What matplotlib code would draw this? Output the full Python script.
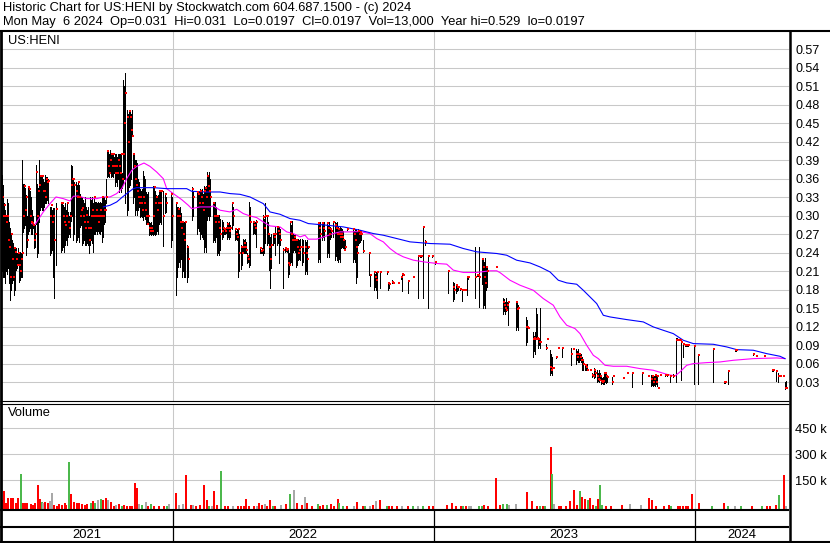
import matplotlib
matplotlib.use('Agg')
import matplotlib.pyplot as plt
from matplotlib.lines import Line2D
import numpy as np

plt.rcParams['font.family'] = ['Liberation Sans', 'DejaVu Sans']

# ---------------- data (x = weekday index along the chart) ----------------
header_line1 = "Historic Chart for US:HENI by Stockwatch.com 604.687.1500 - (c) 2024"
header_line2 = ("Mon May  6 2024  Op=0.031  Hi=0.031  Lo=0.0197  Cl=0.0197  "
                "Vol=13,000  Year hi=0.529  lo=0.0197")
symbol = "US:HENI"

year_labels = ["2021", "2022", "2023", "2024"]
year_starts = [172.6, 433.6, 695.0]          # first weekday of 2022, 2023, 2024
price_ticks = [0.03, 0.06, 0.09, 0.12, 0.15, 0.18, 0.21, 0.24, 0.27, 0.30,
               0.33, 0.36, 0.39, 0.42, 0.45, 0.48, 0.51, 0.54, 0.57]
volume_ticks = [150000, 300000, 450000]
volume_tick_labels = ["150 k", "300 k", "450 k"]

bar_day = [
    2, 3, 4, 5, 6, 7, 8, 9, 10, 11,
    12, 13, 14, 15, 16, 17, 18, 19, 20, 21,
    22, 23, 24, 25, 26, 27, 28, 29, 30, 31,
    32, 33, 34, 35, 36, 37, 38, 39, 40, 41,
    42, 43, 44, 45, 46, 47, 48, 50, 51, 52,
    53, 54, 56, 61, 62, 63, 64, 65, 66, 67,
    68, 69, 70, 71, 72, 73, 74, 76, 77, 78,
    79, 80, 81, 82, 83, 84, 85, 86, 87, 88,
    89, 90, 91, 92, 93, 94, 95, 96, 97, 98,
    99, 100, 101, 102, 103, 104, 105, 106, 107, 108,
    109, 110, 111, 112, 113, 114, 115, 116, 117, 118,
    119, 120, 121, 122, 123, 124, 125, 127, 128, 129,
    130, 131, 132, 133, 134, 135,
    136, 137, 138, 139, 140, 141, 142, 143, 144, 145,
    146, 147, 148, 149, 150, 151, 152, 153, 154, 155,
    156, 157, 158, 159, 160, 161, 163, 165, 166, 171,
    172, 176, 177, 178, 179, 180, 181, 182, 183, 184,
    185, 187, 188, 192, 193, 197, 198, 199, 200, 201,
    202, 203, 204, 205, 206, 207, 208, 209, 210, 213,
    214, 215, 216, 217, 218, 219, 220, 222, 223, 224,
    225, 226, 227, 228, 229, 230, 232, 233, 235, 236,
    237, 238, 239, 241, 242, 243, 244, 245, 246, 247,
    248, 249, 250,
    253, 254, 255, 256, 260, 261, 262, 263, 264, 265,
    267, 268, 269, 270, 271, 273, 274, 275, 277, 278,
    279, 280, 283, 285, 286, 287, 288, 289, 290, 291,
    292, 293, 294, 295, 296, 297, 298, 299, 300, 302,
    303, 305, 306, 307, 308, 318, 319, 320, 322, 323,
    324, 327, 328, 329, 330, 331, 333, 335, 336, 337,
    338, 339, 340, 341, 342, 343, 344, 345, 347, 353,
    354, 355, 356, 357, 358, 359, 360, 361, 363, 369,
    370, 374, 375, 376, 377, 380, 387, 388, 389, 392,
    393, 398, 401, 402, 403, 408, 413, 418, 420, 421,
    423, 425, 428, 432, 435, 448, 453, 454, 456, 457,
    458, 460, 462, 463, 465, 467, 468, 475, 477, 478,
    479, 482, 483, 484, 485, 486, 487, 496,
    503, 504, 505, 506, 507, 508, 516, 517, 518, 526,
    527, 528, 533, 534, 535, 536, 537, 538, 539, 540,
    546, 547, 550, 551, 552, 553, 556, 558, 562, 571,
    573, 576, 577, 578, 579, 580, 581, 582, 583, 585,
    586, 587, 590, 592, 593, 594, 595, 597, 598, 599,
    600, 601, 602, 603, 604, 605, 606, 607, 612, 613,
    623, 627, 632, 642, 648, 651, 652, 653, 654, 655,
    656, 657, 658, 660, 665, 667, 670, 673, 676, 677,
    678, 679, 680, 681, 683, 685, 686, 687, 688, 694,
    698, 713, 724, 725, 728, 735, 736, 753, 756, 764,
    772, 773, 776, 778, 780, 783, 785, 786,
]

bar_high = [
    .366, .350, .321, .310, .300, .328, .320, .290, .280, .271,
    .260, .255, .247, .247, .247, .240, .247, .241, .241, .240,
    .391, .352, .352, .345, .333, .300, .349, .349, .340, .330,
    .309, .300, .287, .285, .382, .352, .345, .391, .366, .366,
    .366, .360, .355, .366, .363, .363, .360, .314, .314, .310,
    .312, .312, .320, .322, .322, .318, .315, .320, .310, .320,
    .306, .300, .306, .382, .380, .360, .355, .355, .350, .355,
    .350, .336, .330, .330, .325, .320, .330, .314, .310, .314,
    .300, .330, .325, .330, .320, .330, .322, .322, .320, .322,
    .320, .322, .320, .330, .330, .330, .325, .360, .406, .406,
    .400, .406, .401, .401, .401, .395, .401, .401, .395, .401,
    .401, .400, .401, .370, .521, .510, .531, .471, .465, .471,
    .471, .465, .471, .401, .400, .391,
    .391, .385, .360, .355, .344, .340, .344, .372, .365, .360,
    .339, .335, .339, .290, .288, .290, .285, .349, .349, .340,
    .333, .330, .333, .341, .338, .341, .341, .336, .330, .339,
    .330, .322, .315, .314, .310, .314, .305, .290, .288, .290,
    .290, .252, .250, .346, .340, .341, .335, .341, .344, .340,
    .344, .335, .349, .345, .349, .371, .365, .371, .360, .322,
    .320, .322, .315, .301, .300, .301, .295, .293, .290, .282,
    .280, .282, .290, .288, .290, .285, .321, .315, .279, .275,
    .279, .279, .270, .252, .250, .263, .260, .263, .258, .239,
    .235, .322, .315,
    .290, .288, .290, .293, .247, .245, .247, .301, .295, .321,
    .301, .290, .271, .265, .271, .271, .268, .282, .282, .280,
    .282, .278, .247, .247, .245, .247, .247, .240, .291, .285,
    .291, .271, .268, .271, .263, .260, .263, .260, .263, .263,
    .260, .261, .258, .261, .250, .290, .288, .290, .290, .288,
    .290, .290, .285, .290, .282, .280, .291, .290, .288, .290,
    .282, .280, .282, .280, .279, .275, .263, .260, .279, .279,
    .275, .279, .279, .275, .279, .275, .277, .275, .260, .240,
    .206, .209, .205, .209, .210, .210, .209, .191, .190, .196,
    .191, .193, .201, .206, .204, .196, .201, .235, .235, .235,
    .283, .260, .235, .235, .226, .211, .193, .190, .189, .187,
    .185, .182, .180, .180, .180, .201, .201, .250, .204, .204,
    .250, .231, .231, .225, .231, .217, .215, .217,
    .166, .165, .160, .166, .160, .160, .161, .161, .155, .135,
    .130, .119, .111, .105, .111, .151, .140, .100, .098, .151,
    .092, .101, .082, .075, .070, .054, .070, .086, .086, .086,
    .085, .084, .080, .084, .076, .075, .076, .071, .068, .060,
    .058, .060, .050, .044, .042, .052, .050, .049, .045, .049,
    .045, .038, .036, .038, .045, .044, .045, .040, .038, .040,
    .037, .045, .045, .045, .040, .041, .040, .041, .040, .041,
    .040, .041, .022, .043, .041, .041, .040, .043, .101, .101,
    .100, .100, .099, .098, .092, .090, .090, .090, .090, .088,
    .075, .084, .032, .031, .048, .082, .082, .075, .073, .073,
    .049, .049, .048, .044, .040, .040, .030, .031,
]

bar_low = [
    .210, .200, .200, .190, .210, .206, .215, .190, .163, .180,
    .190, .195, .171, .180, .212, .215, .220, .193, .195, .200,
    .200, .274, .280, .285, .236, .250, .271, .275, .280, .271,
    .271, .280, .247, .250, .287, .233, .240, .290, .309, .315,
    .310, .309, .315, .320, .320, .325, .320, .236, .240, .245,
    .200, .166, .220, .241, .245, .250, .241, .252, .260, .252,
    .266, .270, .266, .292, .300, .260, .270, .258, .260, .265,
    .258, .282, .285, .252, .255, .260, .252, .252, .255, .252,
    .240, .252, .260, .255, .241, .270, .271, .275, .271, .275,
    .272, .271, .275, .258, .265, .287, .290, .320, .363, .365,
    .363, .370, .363, .365, .363, .370, .349, .355, .349, .360,
    .339, .345, .339, .345, .352, .360, .320, .301, .310, .347,
    .350, .360, .430, .320, .330, .301,
    .310, .301, .309, .315, .298, .300, .298, .293, .300, .295,
    .287, .290, .290, .268, .270, .268, .270, .268, .270, .268,
    .271, .275, .271, .287, .290, .287, .251, .304, .306, .249,
    .260, .171, .200, .217, .225, .217, .230, .201, .210, .201,
    .201, .193, .200, .293, .300, .271, .280, .275, .263, .270,
    .265, .263, .241, .250, .241, .293, .300, .293, .300, .258,
    .260, .258, .265, .236, .240, .236, .245, .263, .265, .271,
    .271, .272, .263, .265, .263, .266, .279, .285, .260, .262,
    .260, .201, .210, .214, .220, .239, .240, .239, .240, .223,
    .225, .217, .220,
    .271, .272, .271, .250, .239, .240, .239, .236, .240, .255,
    .252, .255, .212, .182, .215, .252, .255, .236, .252, .255,
    .223, .252, .182, .241, .242, .241, .201, .205, .220, .225,
    .220, .241, .245, .241, .217, .220, .228, .230, .228, .220,
    .225, .206, .210, .206, .247, .225, .230, .225, .260, .265,
    .260, .233, .240, .233, .263, .265, .266, .228, .235, .228,
    .225, .230, .225, .247, .250, .247, .244, .245, .277, .225,
    .230, .225, .191, .200, .252, .255, .258, .260, .241, .204,
    .186, .179, .185, .180, .166, .182, .206, .180, .182, .190,
    .190, .190, .198, .177, .203, .175, .200, .167, .233, .233,
    .167, .252, .150, .233, .222, .175, .162, .165, .175, .178,
    .180, .179, .162, .179, .179, .171, .198, .166, .202, .202,
    .152, .189, .150, .155, .150, .179, .185, .216,
    .141, .145, .141, .145, .150, .122, .114, .120, .114, .090,
    .095, .117, .071, .080, .075, .100, .101, .086, .090, .086,
    .083, .100, .041, .045, .041, .052, .069, .085, .071, .057,
    .084, .060, .065, .063, .063, .065, .063, .049, .050, .049,
    .050, .049, .049, .038, .039, .036, .038, .030, .032, .030,
    .033, .026, .028, .026, .026, .030, .028, .030, .026, .039,
    .036, .044, .022, .027, .039, .023, .025, .023, .025, .023,
    .026, .023, .021, .042, .040, .040, .030, .038, .030, .098,
    .098, .098, .098, .033, .071, .089, .089, .089, .089, .026,
    .026, .030, .029, .029, .026, .081, .081, .074, .072, .072,
    .048, .048, .032, .030, .039, .039, .019, .020,
]

bar_close = [
    .330, .300, .318, .300, .290, .300, .260, .250, .200, .271,
    .230, .200, .247, .241, .230, .220, .240, .220, .210, .230,
    .240, .300, .349, .310, .330, .260, .347, .344, .300, .290,
    .288, .285, .260, .270, .371, .300, .340, .350, .364, .364,
    .364, .340, .340, .330, .360, .355, .357, .300, .317, .290,
    .299, .260, .311, .320, .320, .300, .290, .285, .300, .320,
    .290, .280, .300, .350, .360, .360, .350, .340, .330, .355,
    .330, .300, .310, .312, .300, .290, .280, .301, .290, .280,
    .260, .280, .300, .310, .300, .330, .300, .310, .300, .290,
    .300, .310, .300, .330, .300, .309, .310, .330, .405, .380,
    .370, .390, .400, .380, .400, .380, .370, .380, .370, .390,
    .380, .370, .400, .360, .400, .450, .500, .460, .420, .470,
    .460, .440, .430, .400, .380, .360,
    .350, .340, .330, .320, .331, .320, .310, .331, .320, .310,
    .300, .287, .300, .280, .275, .280, .275, .300, .347, .320,
    .330, .310, .320, .340, .320, .340, .300, .335, .320, .335,
    .300, .320, .300, .311, .300, .290, .280, .290, .270, .260,
    .290, .250, .230, .344, .330, .339, .335, .320, .341, .330,
    .320, .310, .341, .345, .330, .365, .349, .340, .330, .321,
    .300, .290, .300, .299, .290, .280, .270, .276, .280, .279,
    .275, .280, .287, .280, .275, .280, .321, .300, .279, .270,
    .265, .279, .240, .250, .240, .250, .255, .250, .245, .235,
    .230, .300, .290,
    .290, .285, .280, .290, .247, .242, .245, .298, .280, .300,
    .300, .270, .250, .230, .252, .270, .265, .270, .281, .275,
    .270, .260, .245, .247, .244, .246, .224, .220, .290, .270,
    .260, .260, .265, .260, .260, .250, .240, .245, .250, .249,
    .240, .250, .240, .230, .249, .289, .280, .270, .289, .280,
    .275, .289, .280, .270, .279, .275, .290, .285, .280, .270,
    .279, .270, .265, .270, .265, .260, .245, .250, .278, .279,
    .270, .260, .250, .240, .276, .270, .274, .270, .242, .240,
    .204, .209, .200, .195, .209, .208, .209, .191, .189, .193,
    .191, .191, .200, .206, .204, .194, .201, .235, .234, .234,
    .281, .258, .235, .235, .225, .210, .185, .180, .187, .185,
    .184, .181, .180, .180, .180, .200, .200, .200, .203, .203,
    .200, .230, .217, .200, .190, .217, .210, .216,
    .160, .155, .150, .147, .155, .160, .160, .149, .150, .120,
    .119, .118, .100, .101, .100, .100, .101, .100, .095, .095,
    .086, .100, .055, .050, .053, .053, .070, .085, .086, .075,
    .084, .076, .070, .075, .075, .070, .066, .065, .060, .057,
    .055, .050, .049, .041, .040, .049, .045, .039, .035, .034,
    .040, .032, .030, .032, .045, .044, .040, .038, .030, .039,
    .037, .045, .045, .045, .039, .035, .040, .030, .035, .041,
    .030, .040, .021, .042, .041, .041, .040, .040, .099, .099,
    .098, .098, .098, .095, .092, .090, .090, .090, .090, .088,
    .074, .084, .030, .030, .048, .082, .082, .075, .072, .072,
    .049, .049, .048, .039, .039, .040, .020, .020,
]

# short moving average (magenta)
ma_short_day = [31.7, 35, 43.3, 50, 56, 63.3, 70, 73.3, 78.3, 86.7, 96.7, 103.3, 110,
                116.7, 121.7, 126.7, 131.7, 136.7, 144, 150, 156.7, 163.3, 166.7,
                173.3, 181.7, 188.3, 191.7, 200, 210, 213.3, 220, 230, 236.7, 243.3,
                250, 256.7, 263.3, 270, 280, 286.7, 293.3, 300, 305, 308.3, 316.7,
                321.7, 326.7, 333.3, 340, 350, 360, 370, 376.7, 383.3, 390, 396.7,
                403.3, 413.3, 423.3, 436.7, 446.7, 453.3, 463.3, 476.7, 490, 496.7,
                500, 510, 520, 533.3, 543.3, 553.3, 560, 566.7, 575, 580, 586.7,
                593.3, 598.3, 605, 613.3, 626.7, 640, 653.3, 666.7, 675, 680, 686.7,
                693.3, 706.7, 720, 733.3, 753.3, 776.7, 785]
ma_short_val = [.2873, .2857, .3062, .3197, .3305, .3278, .324, .3316, .3321, .3278,
                .3278, .3305, .3305, .336, .344, .3602, .3737, .3802, .3856, .3802,
                .371, .3602, .344, .336, .3262, .317, .3116, .3143, .3143, .316, .309,
                .3062, .3105, .3035, .2997, .297, .29, .2835, .2819, .2738, .2711,
                .2657, .2684, .262, .262, .2646, .2673, .271, .2738, .2738, .2743,
                .271, .263, .2576, .2468, .2387, .2333, .2279, .2252, .2225, .2214,
                .2117, .2079, .2079, .2106, .2106, .2077, .1953, .1872, .179, .1655,
                .1547, .1357, .1222, .1168, .1086, .0897, .0734, .068, .0572, .0556,
                .0556, .0518, .0491, .0426, .0399, .0464, .0572, .0599, .0615, .0626,
                .0653, .068, .0691, .068]

# long moving average (blue)
ma_long_day = [103.3, 110, 116.7, 121.7, 126.7, 133.3, 136.7, 153.3, 166.7, 186.7,
               191.7, 206.7, 220, 230, 240, 250, 263.3, 270, 280, 290, 300, 308.3,
               326.7, 343.3, 360, 373.3, 383.3, 396.7, 410, 430, 450, 463.3, 476.7,
               496.7, 506.7, 516.7, 530, 540, 550, 558.3, 566.7, 576.7, 583.3, 590,
               596.7, 603.3, 610, 626.7, 643.3, 653.3, 663.3, 673.3, 683.3, 693.3,
               713.3, 726.7, 736.7, 753.3, 766.7, 780, 785]
ma_long_val = [.3143, .317, .3224, .3294, .336, .344, .3456, .3456, .344, .344,
               .3397, .3386, .3386, .336, .3348, .3305, .3197, .3062, .3024, .2954,
               .2927, .2873, .2846, .2819, .2765, .2711, .2684, .263, .2576, .2549,
               .2538, .2468, .2414, .2387, .2359, .2278, .2234, .2169, .2088, .1953,
               .191, .1888, .179, .1682, .1574, .1384, .1357, .1314, .1276, .1195,
               .114, .1086, .0978, .0924, .0913, .087, .0826, .0816, .0761, .0718,
               .068]

vol_day = [
    2, 4, 6, 8, 11, 13, 16, 18, 21, 23,
    25, 27, 31, 33, 35, 38, 40, 42, 43, 45,
    48, 50, 52, 54, 57, 59, 62, 65, 66, 69,
    71, 74, 77, 79, 82, 85, 87, 91, 93, 95,
    98, 101, 103, 106, 108, 111, 114, 116, 119, 122,
    124, 127, 130, 132, 135, 137, 139, 142, 146, 148,
    151, 154, 159, 164, 167, 169, 176, 179, 183, 186,
    191, 193, 196, 200, 204, 207, 209, 212, 214, 217,
    221, 225, 228, 233, 238, 241, 244, 246, 249, 254,
    257, 259, 262, 265, 267, 270, 273, 275, 281, 286,
    290, 294, 297, 302, 305, 307, 312, 318, 320, 323,
    327, 331, 334, 338, 339, 343, 347, 354, 357, 363,
    365, 370, 373, 376, 380, 387, 389, 392, 397, 402,
    408, 413, 418, 423, 429, 433, 447, 452, 456, 461,
    463, 466, 469, 471, 479, 482, 484, 488, 496, 500,
    503, 507, 509, 516, 527, 532, 537, 540, 543, 545,
    551, 552, 554, 559, 561, 566, 570, 574, 577, 580,
    582, 585, 588, 590, 593, 596, 598, 600, 602, 606,
    611, 622, 630, 641, 649, 652, 656, 664, 669, 671,
    678, 680, 683, 686, 688, 692, 699, 712, 724, 728,
    735, 741, 752, 762, 767, 770, 776, 779, 784, 786,
]
vol_k = [
    37, 90, 17, 46, 46, 50, 17, 46, 187, 17,
    17, 21, 13, 8, 17, 123, 40, 27, 17, 27,
    17, 31, 75, 8, 2, 13, 10, 17, 8, 256,
    71, 27, 21, 17, 13, 10, 13, 17, 31, 17,
    37, 42, 37, 46, 37, 27, 2, 10, 13, 2,
    8, 2, 2, 2, 133, 108, 13, 8, 27, 2,
    13, 1, 1, 1, 2, 13, 75, 8, 13, 181,
    8, 8, 1, 8, 123, 37, 2, 1, 90, 8,
    206, 1, 1, 1, 1, 2, 2, 40, 2, 1,
    2, 21, 8, 12, 2, 37, 2, 2, 8, 13,
    71, 94, 21, 6, 56, 17, 2, 13, 1, 6,
    6, 13, 2, 44, 17, 2, 2, 1, 25, 2,
    2, 1, 6, 33, 37, 0.5, 0.5, 0.5, 0.5, 0.5,
    0.5, 0.5, 0.5, 0.5, 0.5, 0.5, 8, 17, 1, 0.5,
    1, 0.5, 0.5, 0.5, 0.5, 2, 8, 0.5, 161, 6,
    12, 13, 6, 12, 85, 33, 2, 1, 1, 1,
    344, 187, 12, 2, 1, 1, 31, 94, 8, 90,
    56, 40, 37, 46, 6, 1, 40, 123, 8, 1,
    1, 8, 12, 8, 46, 37, 1, 1, 8, 2,
    2, 2, 1, 1, 1, 71, 17, 0.5, 17, 0.5,
    0.5, 0.5, 0.5, 0.5, 1, 0.5, 8, 65, 181, 2,
]
vol_dir = [   # r = down day, g = up day, k = unchanged
    'r', 'r', 'r', 'r', 'r', 'r', 'r', 'r', 'g', 'r',
    'r', 'r', 'r', 'r', 'r', 'r', 'r', 'g', 'k', 'r',
    'r', 'k', 'k', 'r', 'r', 'r', 'r', 'r', 'r', 'g',
    'r', 'r', 'r', 'r', 'r', 'r', 'r', 'g', 'r', 'g',
    'k', 'g', 'r', 'r', 'k', 'r', 'r', 'k', 'r', 'g',
    'r', 'r', 'r', 'r', 'r', 'r', 'k', 'g', 'k', 'r',
    'g', 'r', 'r', 'r', 'g', 'k', 'r', 'k', 'k', 'r',
    'r', 'k', 'r', 'r', 'r', 'r', 'g', 'k', 'r', 'r',
    'g', 'r', 'r', 'k', 'r', 'r', 'r', 'r', 'r', 'r',
    'k', 'r', 'r', 'k', 'r', 'r', 'g', 'r', 'k', 'r',
    'g', 'k', 'r', 'r', 'k', 'r', 'r', 'g', 'r', 'r',
    'g', 'r', 'r', 'r', 'g', 'g', 'r', 'k', 'r', 'r',
    'g', 'k', 'r', 'k', 'r', 'g', 'r', 'r', 'r', 'k',
    'r', 'g', 'k', 'g', 'r', 'r', 'r', 'r', 'r', 'r',
    'g', 'r', 'k', 'k', 'g', 'g', 'r', 'r', 'r', 'r',
    'g', 'g', 'k', 'k', 'r', 'r', 'r', 'g', 'r', 'g',
    'r', 'g', 'k', 'r', 'r', 'r', 'r', 'r', 'r', 'g',
    'r', 'r', 'g', 'r', 'r', 'g', 'r', 'g', 'g', 'r',
    'r', 'r', 'k', 'k', 'r', 'r', 'r', 'r', 'r', 'g',
    'r', 'r', 'r', 'r', 'r', 'r', 'r', 'g', 'r', 'g',
    'k', 'g', 'r', 'g', 'r', 'r', 'r', 'g', 'r', 'k',
]

n = len(bar_day)
if not (len(bar_high) == len(bar_low) == len(bar_close) == n):
    raise ValueError(f"bar lengths {n} {len(bar_high)} {len(bar_low)} {len(bar_close)}")
if not (len(vol_k) == len(vol_dir) == len(vol_day)):
    raise ValueError(f"vol lengths {len(vol_day)} {len(vol_k)} {len(vol_dir)}")
if len(ma_short_day) != len(ma_short_val) or len(ma_long_day) != len(ma_long_val):
    raise ValueError("ma lengths")

# ---------------- layout (pixels) ----------------
W, H = 830, 543
fig = plt.figure(figsize=(W / 100, H / 100), dpi=100)
fig.patch.set_facecolor('white')


def fx(x):
    return x / W


def fy(y):
    return 1 - y / H


X0, X1 = 2, 789
P_TOP, P_BOT = 31, 400.5
V_TOP, V_BOT = 403.5, 509.5
R_MID, R_BOT = 526.7, 541.7
GRID = '#c8c8c8'
GLW = 0.75

ax_p = fig.add_axes([fx(X0), fy(P_BOT), (X1 - X0) / W, (P_BOT - P_TOP) / H])
ax_v = fig.add_axes([fx(X0), fy(V_BOT), (X1 - X0) / W, (V_BOT - V_TOP) / H])
ax_y = fig.add_axes([fx(X0), fy(R_BOT), (X1 - X0) / W, (R_BOT - V_BOT) / H])

for ax in (ax_p, ax_v, ax_y):
    ax.set_xlim(X0, X1)
    for s in ax.spines.values():
        s.set_visible(False)
    ax.set_xticks([])
    ax.set_facecolor('none')

# ---------------- price panel ----------------
ax_p.set_ylim(0, 0.6)
for t in price_ticks:
    ax_p.axhline(t, color=GRID, lw=GLW, zorder=0)
for xs in year_starts:
    ax_p.axvline(xs, color=GRID, lw=GLW, zorder=0)

ax_p.vlines(bar_day, bar_low, bar_high, colors='black', lw=0.72,
            antialiased=False, zorder=2)
ax_p.plot(np.array(bar_day) + 1.0, bar_close, linestyle='none', marker='s',
          markersize=2.1, markeredgewidth=0, color='#ff0000', zorder=4)
ax_p.plot(ma_short_day, ma_short_val, color='#ff00ff', lw=0.8, zorder=3)
ax_p.plot(ma_long_day, ma_long_val, color='#0000ff', lw=0.8, zorder=3)

ax_p.yaxis.tick_right()
ax_p.set_yticks(price_ticks)
ax_p.set_yticklabels([f"{t:.2f}" for t in price_ticks])
ax_p.tick_params(axis='y', length=0, pad=4.5, labelsize=9.0, colors='black')

# ---------------- volume panel ----------------
ax_v.set_ylim(-18000, 593000)
for t in volume_ticks:
    ax_v.axhline(t, color=GRID, lw=GLW, zorder=0)
for xs in year_starts:
    ax_v.axvline(xs, color=GRID, lw=GLW, zorder=0)
color_map = {'r': '#ff0000', 'g': '#4cb84c', 'k': '#a8a8a8'}
vol = np.array(vol_k) * 1000.0
base = -18000
ax_v.bar(vol_day, vol - base, bottom=base, width=2.0,
         color=[color_map[c] for c in vol_dir], lw=0, zorder=2)
ax_v.yaxis.tick_right()
ax_v.set_yticks(volume_ticks)
ax_v.set_yticklabels(volume_tick_labels)
ax_v.tick_params(axis='y', length=0, pad=4.5, labelsize=9.3, colors='black')

# ---------------- year row ----------------
ax_y.set_ylim(0, 1)
ax_y.set_yticks([])
for xs in year_starts:
    ax_y.axvline(xs, color='black', lw=0.9)
edges = [X0] + year_starts + [X1]
label_y = (R_BOT - 534.5) / (R_BOT - V_BOT)
for i, lab in enumerate(year_labels):
    ax_y.text((edges[i] + edges[i + 1]) / 2, label_y, lab, ha='center',
              va='center', fontsize=9.4, color='black')

# ---------------- frame lines ----------------
def hline(y, x0, x1, lw):
    fig.add_artist(Line2D([fx(x0), fx(x1)], [fy(y), fy(y)], color='black',
                          lw=lw, transform=fig.transFigure, solid_capstyle='butt'))


def vline(x, y0, y1, lw):
    fig.add_artist(Line2D([fx(x), fx(x)], [fy(y0), fy(y1)], color='black',
                          lw=lw, transform=fig.transFigure, solid_capstyle='butt'))


hline(P_TOP, 0, W, 1.5)
hline(400.5, 0, X1, 0.8)
hline(403.5, 0, X1, 0.8)
hline(V_BOT, 0, X1, 1.5)
hline(R_MID, 0, X1, 1.5)
hline(R_BOT, 0, W, 1.5)
vline(1.0, P_TOP, R_BOT, 2.0)
vline(X1 + 0.5, P_TOP, R_BOT, 1.8)

# ---------------- texts ----------------
fig.text(fx(3), fy(8), header_line1, ha='left', va='center', fontsize=9.3,
         color='black')
fig.text(fx(3), fy(22), header_line2, ha='left', va='center', fontsize=9.3,
         color='black')
fig.text(fx(8), fy(40.5), symbol, ha='left', va='center', fontsize=9.3,
         color='black')
fig.text(fx(7.5), fy(413), "Volume", ha='left', va='center', fontsize=9.3,
         color='black')

fig.savefig('out.png', dpi=100, facecolor='white')
